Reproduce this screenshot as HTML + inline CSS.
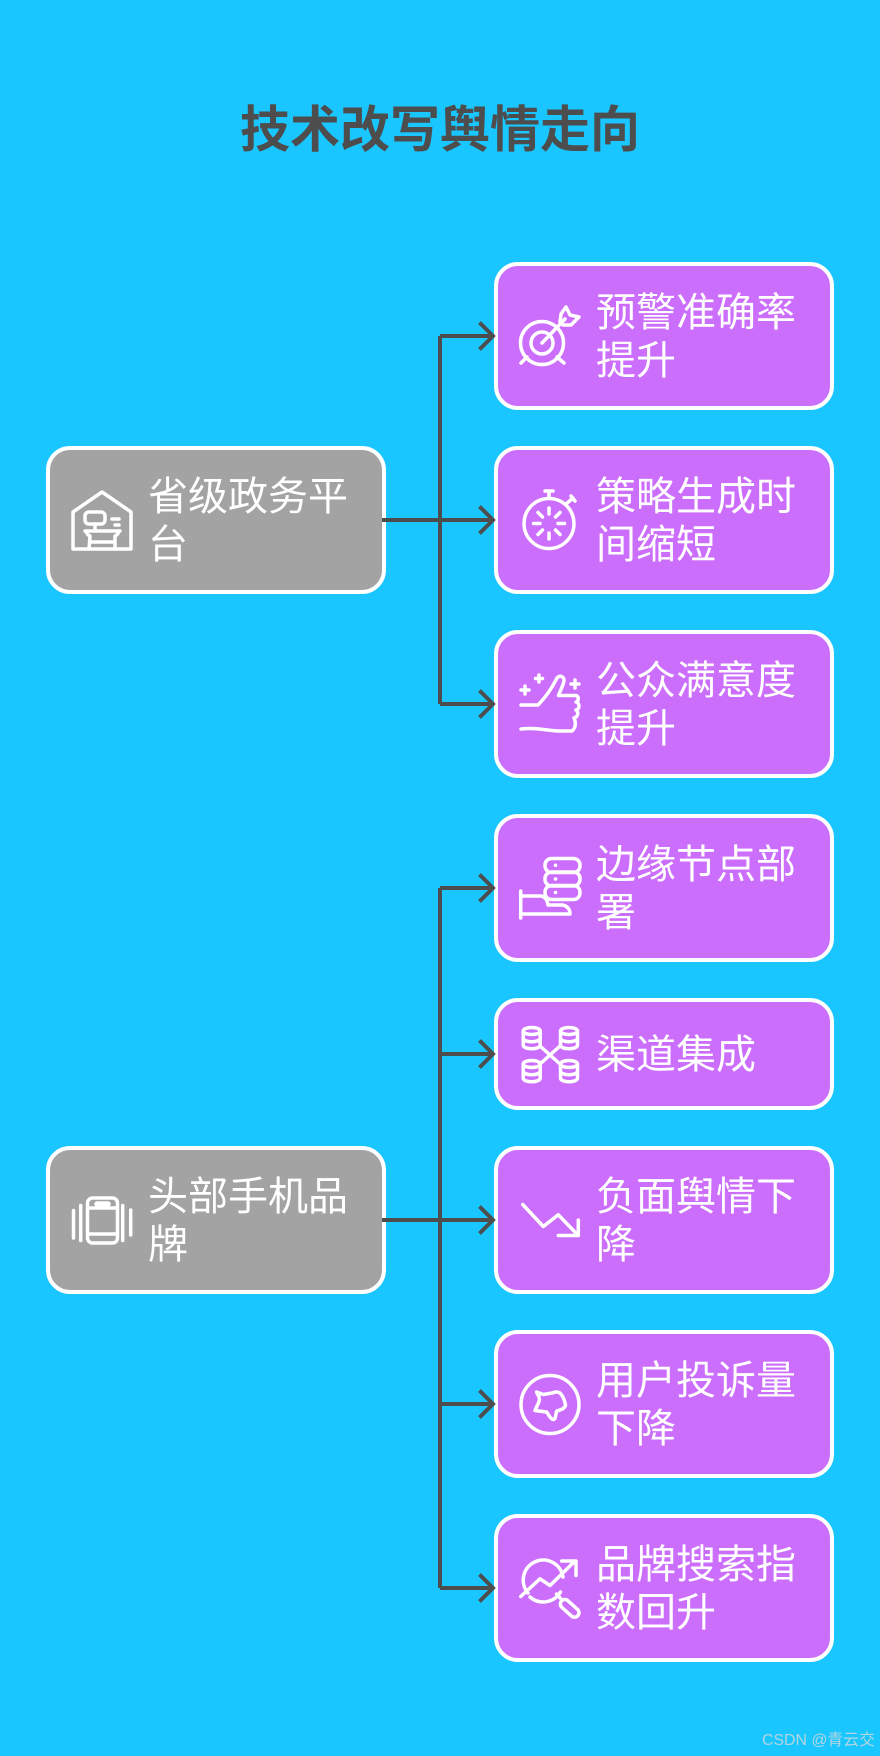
<!DOCTYPE html>
<html><head><meta charset="utf-8"><style>
html,body{margin:0;padding:0;background:#1ac6ff;width:880px;height:1756px;overflow:hidden}
svg{display:block}
text{font-family:"Liberation Sans","Noto Sans CJK SC",sans-serif}
.t{font-size:40px;fill:#fff}
.i{fill:none;stroke:#fff;stroke-width:3.5;stroke-linecap:round;stroke-linejoin:round}
.n{stroke:#fff;stroke-width:4}
.c{fill:none;stroke:#4d4d4d;stroke-width:4}
</style></head><body>
<svg width="880" height="1756" viewBox="0 0 880 1756" xmlns="http://www.w3.org/2000/svg">
<rect width="880" height="1756" fill="#1ac6ff"/>
<text x="440" y="147" text-anchor="middle" font-size="50" font-weight="700" fill="#4d4d4d">技术改写舆情走向</text>

<!-- nodes -->
<g class="n">
<rect x="48" y="448" width="336" height="144" rx="22" fill="#a3a3a3"/>
<rect x="48" y="1148" width="336" height="144" rx="22" fill="#a3a3a3"/>
<g fill="#cc6efc">
<rect x="496" y="264" width="336" height="144" rx="22"/>
<rect x="496" y="448" width="336" height="144" rx="22"/>
<rect x="496" y="632" width="336" height="144" rx="22"/>
<rect x="496" y="816" width="336" height="144" rx="22"/>
<rect x="496" y="1000" width="336" height="108" rx="22"/>
<rect x="496" y="1148" width="336" height="144" rx="22"/>
<rect x="496" y="1332" width="336" height="144" rx="22"/>
<rect x="496" y="1516" width="336" height="144" rx="22"/>
</g></g>

<!-- connectors -->
<g class="c">
<path d="M382 520H440M440 336V704M440 336H492M440 520H492M440 704H492"/>
<path d="M479.500 322.500L493 336L479.500 349.500M479.500 506.500L493 520L479.500 533.500M479.500 690.500L493 704L479.500 717.500"/>
<path d="M382 1220H440M440 888V1588M440 888H492M440 1054H492M440 1220H492M440 1404H492M440 1588H492"/>
<path d="M479.500 874.500L493 888L479.500 901.500M479.500 1040.500L493 1054L479.500 1067.500M479.500 1206.500L493 1220L479.500 1233.500M479.500 1390.500L493 1404L479.500 1417.500M479.500 1574.500L493 1588L479.500 1601.500"/>
</g>

<!-- labels -->
<g class="t">
<text x="148" y="510">省级政务平</text><text x="148" y="558">台</text>
<text x="148" y="1210">头部手机品</text><text x="148" y="1258">牌</text>
<text x="596" y="326">预警准确率</text><text x="596" y="374">提升</text>
<text x="596" y="510">策略生成时</text><text x="596" y="558">间缩短</text>
<text x="596" y="694">公众满意度</text><text x="596" y="742">提升</text>
<text x="596" y="878">边缘节点部</text><text x="596" y="926">署</text>
<text x="596" y="1068">渠道集成</text>
<text x="596" y="1210">负面舆情下</text><text x="596" y="1258">降</text>
<text x="596" y="1394">用户投诉量</text><text x="596" y="1442">下降</text>
<text x="596" y="1578">品牌搜索指</text><text x="596" y="1626">数回升</text>
</g>
<text x="762" y="1745" font-size="16" fill="#c4d6dc" fill-opacity=".9" textLength="113" lengthAdjust="spacingAndGlyphs">CSDN @青云交</text>

<!-- icons -->
<g class="i">
<g transform="translate(72 489)">
<path d="M30 3L59 23V60H1V23Z"/>
<rect x="13" y="23" width="20" height="12" rx="4"/>
<path d="M40 30H47M43 36H47M13 42H48M23 35V42M14 42Q15 46 18 47L17 60M47 42Q46 46 43 47V60M19 53H42"/>
</g>
<g transform="translate(72 1189)">
<rect x="15.500" y="9" width="30" height="45" rx="5"/>
<path d="M16 19H45M16 45H45"/>
<rect x="24" y="14" width="13" height="2" rx="1"/>
<path d="M1.500 21.500V49M8.700 16.500V51.500M50.700 16.500V51.500M58.700 21V46"/>
</g>
<g transform="translate(519 305)">
<circle cx="23" cy="38" r="21.500"/><circle cx="23" cy="38" r="11"/>
<path d="M23 38L46 14M8 52L2 58M38 52L45 58"/>
<path d="M41 17L42 9L47 2L51 10L60 12L52 20L44 20Z"/>
</g>
<g transform="translate(519 489)">
<circle cx="30" cy="34.500" r="25"/>
<path d="M26 2H34M30 2V9M47 15L54 9M52 7L56 12"/>
<path d="M30 19V25M30 44V50M14.500 34.500H21M39 34.500H45.500M19 23.500L23.500 28M41 23.500L36.500 28M19 45.500L23.500 41M41 45.500L36.500 41"/>
</g>
<g transform="translate(519 673)">
<path d="M2 32H19C26 25 33 15 38 5C41 2 45 3 45 8C44 13 41 18 39.500 22.500H57C60 23 60 28 57 29C61 30 61 36 57 37C60 39 59 44 55 45C57 49 57 55 53 58H40C28 58 18 54 2 56"/>
<path d="M20 2V9M16.500 5.500H23.500M6 13V21M2 17H10M56 7V15M52 11H60"/>
</g>
<g transform="translate(519 857)">
<rect x="26" y="1.500" width="35" height="14" rx="6.500"/><rect x="26" y="15" width="35" height="14" rx="6.500"/><rect x="26" y="28.500" width="35" height="14" rx="6.500"/>
<path d="M36.500 8.200h.1M36.500 22h.1M36.500 35.500h.1"/>
<path d="M1.700 34V61M1.700 39H22Q28 40 29 48H44Q51 50 51 57H1.700"/>
</g>
<g transform="translate(519 1023)">
<path d="M21 23L41 41M41 23L21 41"/>
<g><ellipse cx="12.700" cy="8" rx="8.500" ry="3.500"/><path d="M4.200 8V22C4.200 27 21.200 27 21.200 22V8M4.200 15C4.200 20 21.200 20 21.200 15"/></g>
<g><ellipse cx="50" cy="8" rx="8.500" ry="3.500"/><path d="M41.500 8V22C41.500 27 58.500 27 58.500 22V8M41.500 15C41.500 20 58.500 20 58.500 15"/></g>
<g><ellipse cx="12.700" cy="41" rx="8.500" ry="3.500"/><path d="M4.200 41V55C4.200 60 21.200 60 21.200 55V41M4.200 48C4.200 53 21.200 53 21.200 48"/></g>
<g><ellipse cx="50" cy="41" rx="8.500" ry="3.500"/><path d="M41.500 41V55C41.500 60 58.500 60 58.500 55V41M41.500 48C41.500 53 58.500 53 58.500 48"/></g>
</g>
<g transform="translate(519 1189)">
<path d="M3.700 15.500L24.300 37.500L39.300 25.800L59.300 46.500M59.300 31V46.500H39.300"/>
</g>
<g transform="translate(519 1373)">
<circle cx="31" cy="31.500" r="29"/>
<path d="M17.500 19L20 24C21 27 20 29 18 33L16 37.500L27.700 39L31 44Q34 48 36 45.500L37.700 38Q46 36 46.500 32Q45 24 41 20Q38 18 33 20L24.300 21.500L17.500 19Z"/>
</g>
<g transform="translate(519 1557)">
<path d="M9 36A20 20 0 1 1 44 20M41.500 35A20 20 0 0 1 11 40"/>
<path d="M1.700 39.500L21 21.800L31 28.500L56 4M42.700 4H57V18.500"/>
<path d="M37.500 37L43 43"/>
<rect x="40" y="47" width="22" height="9" rx="4.500" transform="rotate(42 51 51)"/>
</g>
</g>
</svg>
</body></html>
